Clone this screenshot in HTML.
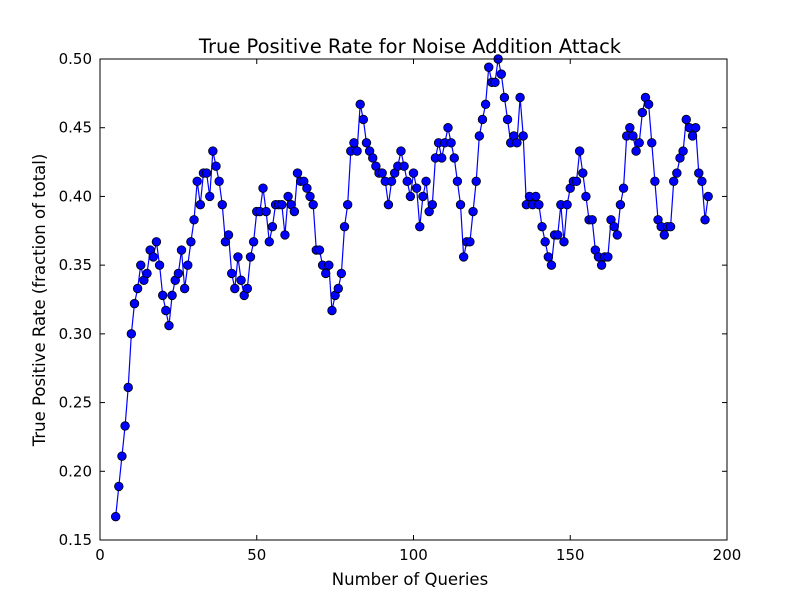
<!DOCTYPE html>
<html><head><meta charset="utf-8">
<style>
body{margin:0;background:#fff;}
svg{display:block;font-family:"DejaVu Sans","Liberation Sans",sans-serif;}
</style></head>
<body>
<svg id="chart" width="800" height="600">
<rect x="0" y="0" width="800" height="600" fill="#fff"/>
<text x="410" y="53" text-anchor="middle" font-size="19.5">True Positive Rate for Noise Addition Attack</text>
<text x="410" y="585" text-anchor="middle" font-size="16.5">Number of Queries</text>
<text transform="translate(45,300) rotate(-90)" text-anchor="middle" font-size="16.5">True Positive Rate (fraction of total)</text>
<g id="axes"></g>
<g id="series"></g>
<rect x="100" y="59" width="627" height="481" fill="none" stroke="#000" stroke-width="1"/>
</svg>
<script>
const xTicks = [0, 50, 100, 150, 200];
const yTicks = [0.15, 0.20, 0.25, 0.30, 0.35, 0.40, 0.45, 0.50];
const yTickLabels = ["0.15","0.20","0.25","0.30","0.35","0.40","0.45","0.50"];
const startQuery = 5;
const tprValues = [
.167,.189,.211,.233,.261,.300,.322,.333,.350,.339,.344,.361,.356,.367,.350,.328,.317,.306,.328,.339,
.344,.361,.333,.350,.367,.383,.411,.394,.417,.417,.400,.433,.422,.411,.394,.367,.372,.344,.333,.356,
.339,.328,.333,.356,.367,.389,.389,.406,.389,.367,.378,.394,.394,.394,.372,.400,.394,.389,.417,.411,
.411,.406,.400,.394,.361,.361,.350,.344,.350,.317,.328,.333,.344,.378,.394,.433,.439,.433,.467,.456,
.439,.433,.428,.422,.417,.417,.411,.394,.411,.417,.422,.433,.422,.411,.400,.417,.406,.378,.400,.411,
.389,.394,.428,.439,.428,.439,.450,.439,.428,.411,.394,.356,.367,.367,.389,.411,.444,.456,.467,.494,
.483,.483,.500,.489,.472,.456,.439,.444,.439,.472,.444,.394,.400,.394,.400,.394,.378,.367,.356,.350,
.372,.372,.394,.367,.394,.406,.411,.411,.433,.417,.400,.383,.383,.361,.356,.350,.356,.356,.383,.378,
.372,.394,.406,.444,.450,.444,.433,.439,.461,.472,.467,.439,.411,.383,.378,.372,.378,.378,.411,.417,
.428,.433,.456,.450,.444,.450,.417,.411,.383,.400
];
const L=100,R=727,T=59,B=540;
const xMin=0,xMax=200,yMin=0.15,yMax=0.50;
function sx(v){return L+(v-xMin)/(xMax-xMin)*(R-L);}
function sy(v){return B-(v-yMin)/(yMax-yMin)*(B-T);}
const NS="http://www.w3.org/2000/svg";
const axes=document.getElementById('axes');
const series=document.getElementById('series');
function mk(tag,attrs,parent){const e=document.createElementNS(NS,tag);for(const k in attrs)e.setAttribute(k,attrs[k]);parent.appendChild(e);return e;}
xTicks.forEach(t=>{
  const x=sx(t);
  const a=mk('line',{x1:x,x2:x,y1:B,y2:B-5,stroke:'#000'},axes);
  
  
  const b=mk('line',{x1:x,x2:x,y1:T,y2:T+5,stroke:'#000'},axes);
  
  
  const tx=mk('text',{x:x,y:B+20,'text-anchor':'middle','font-size':15},axes);
  tx.textContent=String(t);
  
  
});
yTicks.forEach((t,i)=>{
  const y=sy(t);
  const a=mk('line',{x1:L,x2:L+5,y1:y,y2:y,stroke:'#000'},axes);
  
  
  const b=mk('line',{x1:R,x2:R-5,y1:y,y2:y,stroke:'#000'},axes);
  
  
  const tx=mk('text',{x:L-8,y:y+5,'text-anchor':'end','font-size':15},axes);
  tx.textContent=yTickLabels[i];
  
  
});
const pts=tprValues.map((v,i)=>sx(startQuery+i).toFixed(2)+','+sy(v).toFixed(2));
const line=mk('polyline',{points:pts.join(' '),fill:'none',stroke:'#0000ff','stroke-width':1.2},series);


tprValues.forEach((v,i)=>{
  const c=mk('circle',{cx:sx(startQuery+i),cy:sy(v),r:4.3,fill:'#0000ff',stroke:'#000','stroke-width':0.8},series);
  
  
});
</script>
</body></html>
